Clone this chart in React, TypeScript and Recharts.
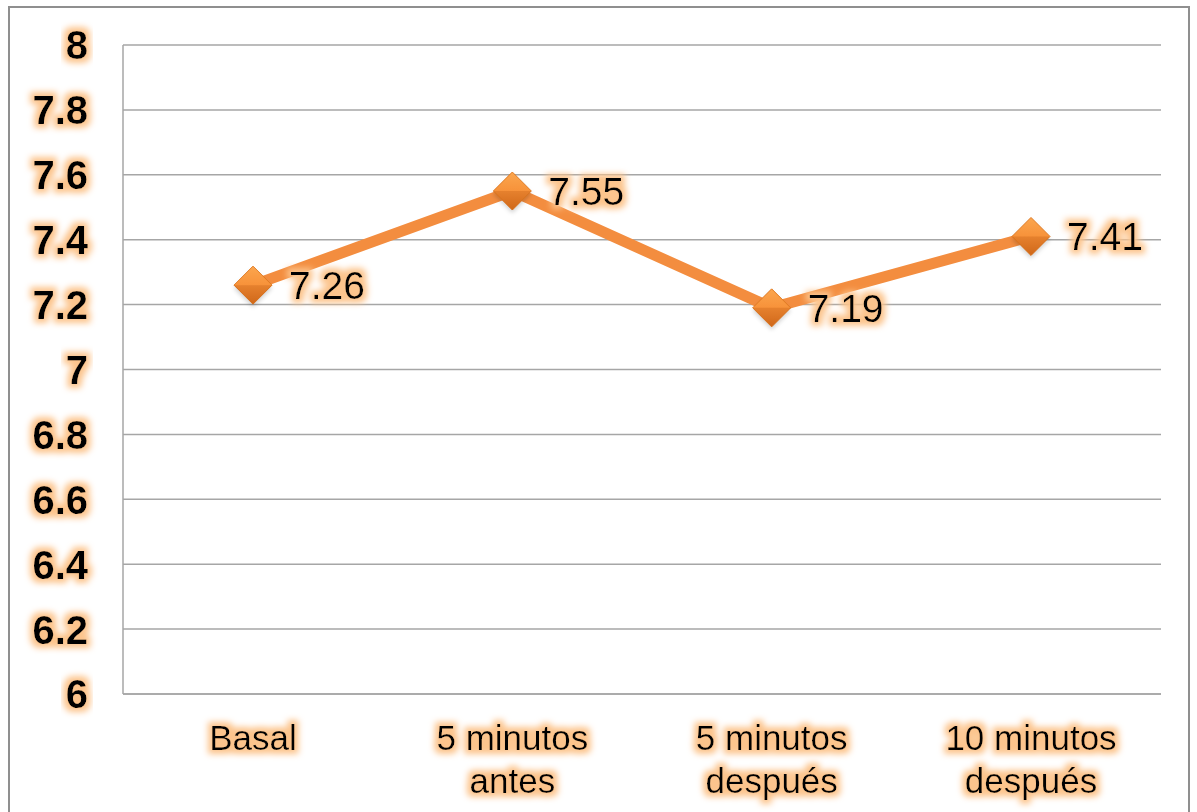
import React from "react";
import { LineChart, Line, XAxis, YAxis, CartesianGrid, LabelList } from "recharts";

const categories = ["Basal", "5 minutos\nantes", "5 minutos\ndespués", "10 minutos\ndespués"];
const values = [7.26, 7.55, 7.19, 7.41];
const yTicks = [6, 6.2, 6.4, 6.6, 6.8, 7, 7.2, 7.4, 7.6, 7.8, 8];

const data = categories.map((c, i) => ({ name: c, value: values[i] }));

const FONT = "'Liberation Sans', Arial, sans-serif";

const YTick = (props: any) => {
  const { y, payload } = props;
  return (
    <text x={88} y={y} dy="0.36em" textAnchor="end" fontFamily={FONT} fontWeight="bold" fontSize={40} fill="#000" filter="url(#glow)">
      {String(payload.value)}
    </text>
  );
};

const XTick = (props: any) => {
  const { x, y, payload } = props;
  const lines = String(payload.value).split("\n");
  return (
    <text x={x} y={y} textAnchor="middle" fontFamily={FONT} fontSize={35} fill="#000" filter="url(#glow)">
      {lines.map((l, i) => (
        <tspan key={i} x={x} y={y + 48 + i * 43}>{l}</tspan>
      ))}
    </text>
  );
};

const Diamond = (props: any) => {
  const { cx, cy } = props;
  if (cx == null || cy == null) return null;
  const h = 19;
  return (
    <g>
      <polygon points={`${cx},${cy - h + 3} ${cx + h},${cy + 3} ${cx},${cy + h + 3} ${cx - h},${cy + 3}`} fill="rgba(0,0,0,0.18)" filter="url(#blur)" />
      <polygon points={`${cx},${cy - h} ${cx + h},${cy} ${cx},${cy + h} ${cx - h},${cy}`} fill="url(#dgrad)" stroke="#E07A22" strokeWidth={1} />
      <polygon points={`${cx - h},${cy} ${cx},${cy + h} ${cx + h},${cy}`} fill="rgba(180,80,10,0.25)" />
    </g>
  );
};

const ValueLabel = (props: any) => {
  const { x, y, value } = props;
  return (
    <text x={x + 36} y={y + 14} fontFamily={FONT} fontSize={39} fill="#000" filter="url(#glow)">
      {String(value)}
    </text>
  );
};

export default function App() {
  return (
    <div style={{ position: "absolute", left: 0, top: 0, width: 1197, height: 812, overflow: "hidden", background: "#fff" }}>
      <svg width={0} height={0} style={{ position: "absolute" }}>
        <defs>
          <filter id="glow" x="-20%" y="-30%" width="140%" height="160%">
            <feMorphology in="SourceAlpha" operator="dilate" radius={4} result="d" />
            <feGaussianBlur in="d" stdDeviation={3} result="b" />
            <feFlood floodColor="#FCC48C" floodOpacity={1} result="c" />
            <feComposite in="c" in2="b" operator="in" result="g" />
            <feMerge>
              <feMergeNode in="g" />
              <feMergeNode in="SourceGraphic" />
            </feMerge>
          </filter>
          <filter id="blur" x="-50%" y="-50%" width="200%" height="200%">
            <feGaussianBlur stdDeviation={2} />
          </filter>
          <linearGradient id="dgrad" x1="0" y1="0" x2="0" y2="1">
            <stop offset="0%" stopColor="#FBA64E" />
            <stop offset="50%" stopColor="#F7923A" />
            <stop offset="100%" stopColor="#D9701E" />
          </linearGradient>
        </defs>
      </svg>
      <div style={{ position: "absolute", left: 8, top: 6, width: 1178, height: 900, border: "2px solid #8F8F8F" }} />
      <div style={{ position: "absolute", left: 0, top: 0 }}>
        <LineChart width={1197} height={812} data={data} margin={{ top: 45, right: 36, bottom: 0, left: 0 }}>
          <CartesianGrid vertical={false} stroke="#A6A6A6" strokeWidth={1.5} />
          <XAxis dataKey="name" height={118} padding={{ left: 130, right: 130 }} tickLine={false} axisLine={{ stroke: "#A6A6A6", strokeWidth: 1.5 }} tick={<XTick />} interval={0} />
          <YAxis domain={[6, 8]} ticks={yTicks} width={123} tickLine={false} axisLine={{ stroke: "#A6A6A6", strokeWidth: 1.5 }} tick={<YTick />} interval={0} />
          <Line type="linear" dataKey="value" stroke="#F38D3F" strokeWidth={11} dot={<Diamond />} activeDot={false} isAnimationActive={false}>
            <LabelList dataKey="value" content={<ValueLabel />} />
          </Line>
        </LineChart>
      </div>
    </div>
  );
}
